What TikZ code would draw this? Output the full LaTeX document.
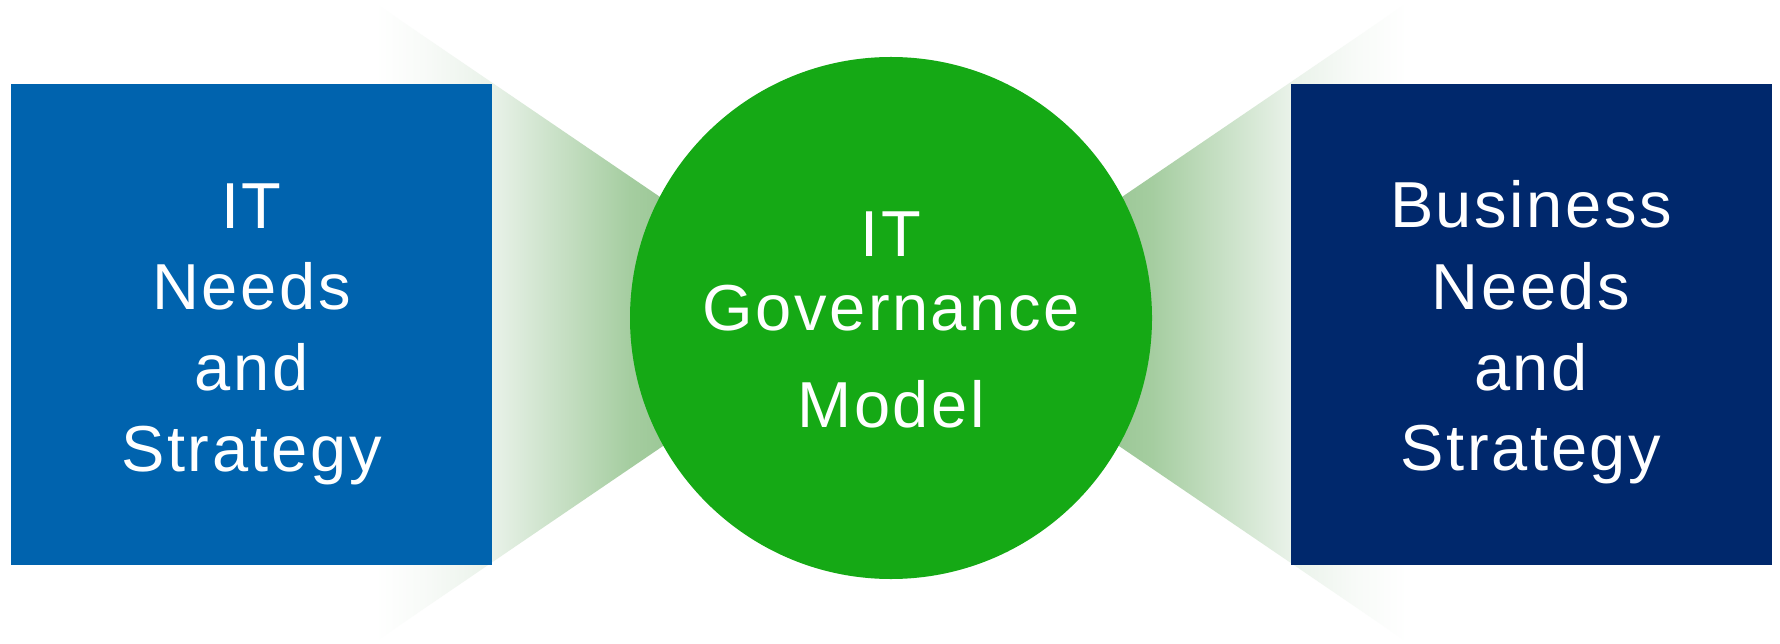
\documentclass[tikz,border=0pt]{standalone}
\usepackage{fontspec}
\newfontfamily\labfont[LetterSpace=4]{Liberation Sans}
\definecolor{itblue}{RGB}{0,99,174}
\definecolor{bizblue}{RGB}{0,40,108}
\definecolor{govgreen}{RGB}{21,169,21}
\definecolor{fadeA}{RGB}{247,250,247}
\definecolor{fadeB}{RGB}{233,242,233}
\definecolor{fadeC}{RGB}{165,205,160}
\definecolor{fadeD}{RGB}{130,185,125}
\pgfdeclarehorizontalshading{fadeleft}{100bp}{color(0bp)=(white); color(25bp)=(white); color(32.1bp)=(fadeA); color(40.2bp)=(fadeB); color(58.1bp)=(fadeC); color(75bp)=(fadeD); color(100bp)=(fadeD)}
\pgfdeclarehorizontalshading{faderight}{100bp}{color(0bp)=(fadeD); color(25bp)=(fadeD); color(41.9bp)=(fadeC); color(59.8bp)=(fadeB); color(67.9bp)=(fadeA); color(75bp)=(white); color(100bp)=(white)}
\begin{document}
\begin{tikzpicture}[x=1bp,y=-1bp,
  sqbox/.style={draw=none,minimum width=481bp,minimum height=481bp,inner sep=0pt},
  govcircle/.style={circle,draw=none,fill=govgreen,minimum size=522bp,inner sep=0pt},
  lab/.style={text=white,font=\labfont\fontsize{65bp}{78bp}\selectfont,inner sep=0pt,anchor=base}]
\useasboundingbox (0,0) rectangle (1780,644);
\fill[white] (0,0) rectangle (1780,644);
% left fan
\coordinate (lt) at (375,3);
\coordinate (lti) at (760,265);
\coordinate (lbi) at (760,380);
\coordinate (lb) at (375,642);
\shade[shading=fadeleft] (lt) -- (lti) -- (lbi) -- (lb) -- cycle;
% right fan
\coordinate (rt) at (1407,3);
\coordinate (rti) at (1022,265);
\coordinate (rbi) at (1022,380);
\coordinate (rb) at (1407,642);
\shade[shading=faderight] (rt) -- (rti) -- (rbi) -- (rb) -- cycle;
% boxes and circle
\node[sqbox,fill=itblue] (itbox) at (251.5,324.5) {};
\node[sqbox,fill=bizblue] (bizbox) at (1531,324.5) {};
\node[govcircle] (gov) at (891,318) {};
% texts
\node[lab] (it1) at (251.5,229) {IT};
\node[lab] (it2) at (251.5,309) {Needs};
\node[lab] (it3) at (251.5,390) {and};
\node[lab] (it4) at (251.5,471) {Strategy};
\node[lab] (g1) at (891,257) {IT};
\node[lab] (g2) at (891,330) {Governance};
\node[lab] (g3) at (891,427) {Model};
\node[lab] (b1) at (1531,228) {Business};
\node[lab] (b2) at (1531,309) {Needs};
\node[lab] (b3) at (1531,390) {and};
\node[lab] (b4) at (1531,470) {Strategy};
\end{tikzpicture}
\end{document}
